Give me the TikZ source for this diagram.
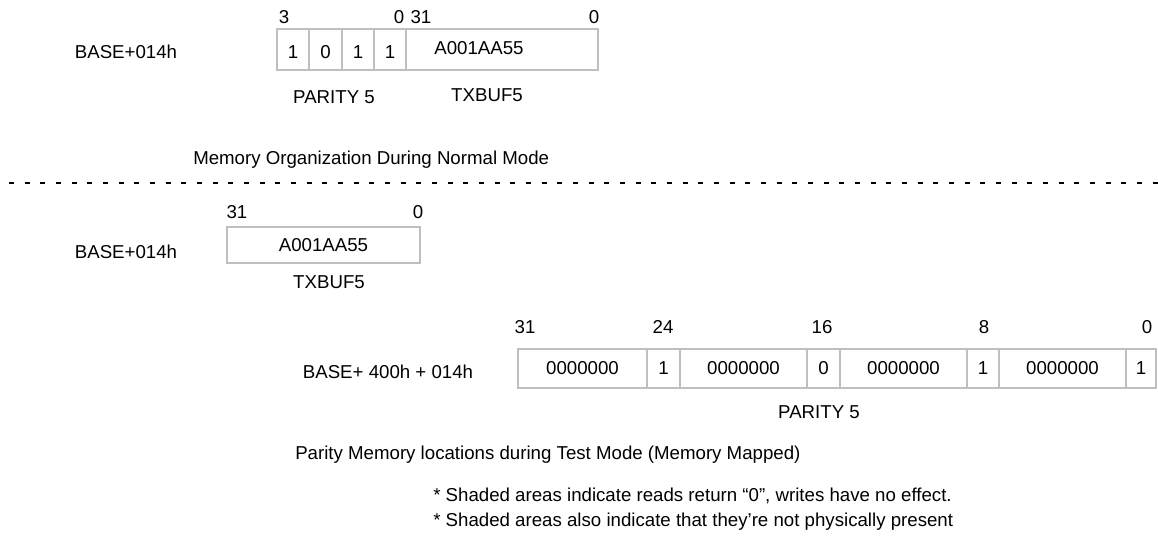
\documentclass[tikz,border=0pt]{standalone}
\usepackage{fontspec}
\setmainfont{Liberation Sans}
\definecolor{boxgray}{RGB}{191,191,191}

\begin{document}
\begin{tikzpicture}[x=0.75pt, y=-0.75pt,
    font=\fontsize{14}{16}\selectfont,
    every node/.style={inner sep=0pt},
    cell/.style 2 args={draw=boxgray, line width=1.9pt, inner sep=0pt,
        minimum width=(#1)*0.75pt, minimum height=(#2)*0.75pt},
    lowdigit/.style={text height=14pt, text depth=0pt},
    dashline/.style={black, line width=1.5pt, dash pattern=on 3.75pt off 8pt, dash phase=5pt}]
    \useasboundingbox (0,0) rectangle (1158,537);

    % normal mode
    \node (addrA) at (126,52) {BASE+014h};
    \foreach \xa/\xb/\txt [count=\i] in {277/309/1, 309/342/0, 342/374/1, 374/406/1} {
        \node[cell={\xb-\xa}{41}, lowdigit] (parA\i) at ({(\xa+\xb)/2}, 49.5) {\txt};
    }
    \node[cell={192}{41}] (bufA) at (502,49.5) {};
    \node (valA) at (479,48) {A001AA55};

    \node (hiA) at (284,17) {3};
    \node (loA) at (399,17) {0};
    \node (hiB) at (421,17) {31};
    \node (loB) at (594,17) {0};

    \node (parityA) at (334,97) {PARITY 5};
    \node (txbufA) at (487,95) {TXBUF5};

    \node[anchor=west] (capA) at (193,160) {Memory Organization During Normal Mode};

    % separator
    \coordinate (sepL) at (0,183);
    \coordinate (sepR) at (1158,183);
    \draw[dashline] (sepL) -- (sepR);

    % test mode
    \node (addrB) at (126,252) {BASE+014h};
    \node[cell={193}{36}] (bufB) at (323.5,245) {A001AA55};
    \node (hiC) at (237,212) {31};
    \node (loC) at (418,212) {0};
    \node (txbufB) at (329,282) {TXBUF5};

    \node (addrC) at (388,372) {BASE+ 400h + 014h};
    \foreach \xa/\xb/\txt [count=\i] in {518/647/0000000, 647/680/1, 680/807/0000000, 807/840/0,
                                         840/967/0000000, 967/999/1, 999/1126/0000000, 1126/1156/1} {
        \node[cell={\xb-\xa}{39}] (parB\i) at ({(\xa+\xb)/2}, 368.5) {\txt};
    }
    \foreach \xp/\bit in {525/31, 663/24, 822/16, 984/8, 1147/0} {
        \node (bit\bit) at (\xp,327) {\bit};
    }
    \node (parityB) at (819,412) {PARITY 5};

    \node[anchor=west] (capB) at (295,455) {Parity Memory locations during Test Mode (Memory Mapped)};
    \node[anchor=west] (noteA) at (433,496) {* Shaded areas indicate reads return “0”, writes have no effect.};
    \node[anchor=west] (noteB) at (433,522) {* Shaded areas also indicate that they’re not physically present};
\end{tikzpicture}
\end{document}
